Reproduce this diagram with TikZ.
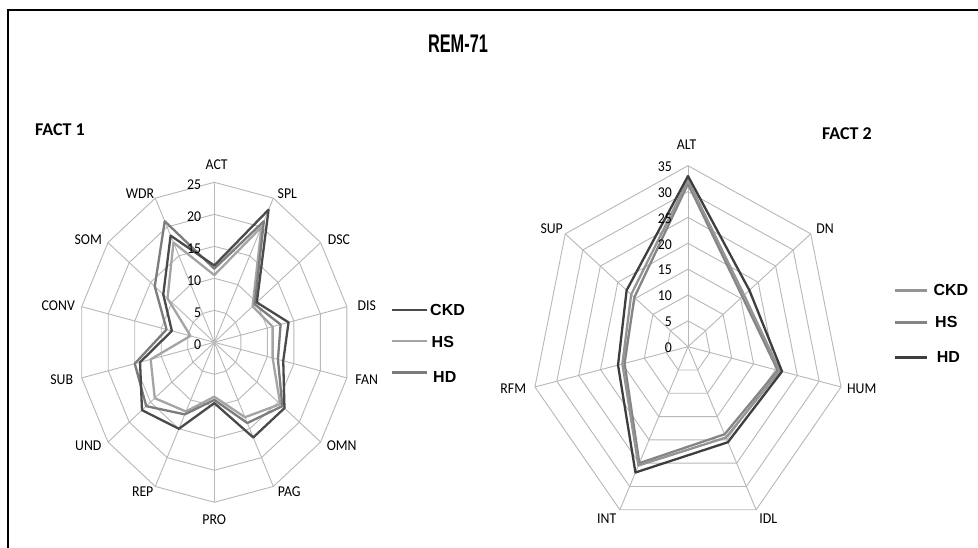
\documentclass[tikz,border=0pt]{standalone}
\usepackage{fontspec}
\setmainfont{Carlito}
\newfontfamily\legfont{Liberation Sans}
\definecolor{gridgray}{HTML}{B8B8B8}
\definecolor{lCKD}{HTML}{4A4A4A}
\definecolor{lHS}{HTML}{A4A4A4}
\definecolor{lHD}{HTML}{7C7C7C}
\definecolor{rCKD}{HTML}{949494}
\definecolor{rHS}{HTML}{858585}
\definecolor{rHD}{HTML}{3E3E3E}
\newcommand{\sqz}[1]{\scalebox{0.92}[1]{#1}}
\tikzset{
  gridline/.style={draw=gridgray, line width=0.9pt},
  serline/.style={line width=2.3pt, line join=round},
  axlab/.style={font=\fontsize{15}{15}\selectfont, inner sep=0pt},
  ticklab/.style={font=\fontsize{15}{15}\selectfont, inner sep=0pt, anchor=east},
  facttxt/.style={font=\fontsize{18}{18}\selectfont\bfseries, inner sep=0pt, anchor=west},
  legline/.style={line width=2.8pt},
  legtxt/.style={font=\legfont\fontsize{16}{16}\selectfont\bfseries, inner sep=0pt, anchor=west},
}
\begin{document}
\begin{tikzpicture}[x=1pt, y=-1pt]
\useasboundingbox (0,0) rectangle (978,548);
\clip (0,0) rectangle (978,548);
\fill[white] (0,0) rectangle (978,548);
% frame
\draw[line width=2.2pt] (7.7,600) -- (7.7,10.3) -- (1000,10.3);
% title
\node[inner sep=0pt, font=\legfont\fontsize{25.5}{25.5}\selectfont\bfseries] (title) at (458,44.2) {\scalebox{0.64}[1]{REM-71}};
\node[facttxt] (fact1) at (35,129.7) {FACT 1};
\node[facttxt] (fact2) at (822,133.5) {FACT 2};

% ---------------- left chart ----------------
\def\LCX{214.3}\def\LCY{342.3}\def\LRX{136}\def\LRY{160}
\coordinate (Lc) at (\LCX,\LCY);
\foreach \k in {5,10,15,20,25}{
  \foreach \i in {0,...,13}{
    \coordinate (L\k-\i) at ({\LCX + \LRX*\k/25*cos(90-\i*360/14)}, {\LCY - \LRY*\k/25*sin(90-\i*360/14)});
  }
  \draw[gridline] (L\k-0) \foreach \i in {1,...,13}{ -- (L\k-\i)} -- cycle;
}
\foreach \i in {0,...,13}{ \draw[gridline] (Lc) -- (L25-\i); }
% series
\foreach \v [count=\i from 0] in {10.5,20,9,11,11,15.5,13,8.5,12,14,12,4.5,11,17.3}{
  \coordinate (LB\i) at ({\LCX + \LRX*\v/25*cos(90-\i*360/14)}, {\LCY - \LRY*\v/25*sin(90-\i*360/14)});
}
\foreach \v [count=\i from 0] in {11.5,21,9.5,12.5,12,16,14,9,12.5,16,15,9,14,21}{
  \coordinate (LD\i) at ({\LCX + \LRX*\v/25*cos(90-\i*360/14)}, {\LCY - \LRY*\v/25*sin(90-\i*360/14)});
}
\foreach \v [count=\i from 0] in {12,23,10,14,13,16.5,16.5,9.5,15,17,14,8,12,18.5}{
  \coordinate (LA\i) at ({\LCX + \LRX*\v/25*cos(90-\i*360/14)}, {\LCY - \LRY*\v/25*sin(90-\i*360/14)});
}
\draw[serline, lHS] (LB0) \foreach \i in {1,...,13}{ -- (LB\i)} -- cycle;
\draw[serline, lHD] (LD0) \foreach \i in {1,...,13}{ -- (LD\i)} -- cycle;
\draw[serline, lCKD] (LA0) \foreach \i in {1,...,13}{ -- (LA\i)} -- cycle;
% ticks
\foreach \k in {0,5,10,15,20,25}{
  \node[ticklab] (Lt\k) at ({\LCX-13}, {\LCY - \LRY*\k/25 + 2}) {\sqz{\k}};
}
% axis labels
\node[axlab] (lACT) at (216.7,165) {\sqz{ACT}};
\node[axlab] (lSPL) at (287.3,193.3) {\sqz{SPL}};
\node[axlab] (lDSC) at (339,239.3) {\sqz{DSC}};
\node[axlab] (lDIS) at (366.7,306) {\sqz{DIS}};
\node[axlab] (lFAN) at (366.7,380) {\sqz{FAN}};
\node[axlab] (lOMN) at (341.7,446) {\sqz{OMN}};
\node[axlab] (lPAG) at (289.3,491.7) {\sqz{PAG}};
\node[axlab] (lPRO) at (214.3,520) {\sqz{PRO}};
\node[axlab] (lREP) at (142.7,491.7) {\sqz{REP}};
\node[axlab] (lUND) at (88.3,446) {\sqz{UND}};
\node[axlab] (lSUB) at (61.7,380) {\sqz{SUB}};
\node[axlab] (lCONV) at (58.3,306) {\sqz{CONV}};
\node[axlab] (lSOM) at (88.3,239.3) {\sqz{SOM}};
\node[axlab] (lWDR) at (140,193.3) {\sqz{WDR}};
% legend left
\coordinate (la1) at (391.7,310); \coordinate (la2) at (426.7,310);
\coordinate (lb1) at (391.7,341); \coordinate (lb2) at (426.7,341);
\coordinate (ld1) at (391.7,372.3); \coordinate (ld2) at (426.7,372.3);
\draw[legline, lCKD] (la1) -- (la2);
\draw[legline, lHS] (lb1) -- (lb2);
\draw[legline, lHD] (ld1) -- (ld2);
\node[legtxt] (lgCKD) at (430,310) {CKD};
\node[legtxt] (lgHS) at (431.5,341.5) {HS};
\node[legtxt] (lgHD) at (433,377) {HD};

% ---------------- right chart ----------------
\def\RCX{688}\def\RCY{346.7}\def\RRX{157}\def\RRY{181}
\coordinate (Rc) at (\RCX,\RCY);
\foreach \k in {5,10,15,20,25,30,35}{
  \foreach \i in {0,...,6}{
    \coordinate (R\k-\i) at ({\RCX + \RRX*\k/35*cos(90-\i*360/7)}, {\RCY - \RRY*\k/35*sin(90-\i*360/7)});
  }
  \draw[gridline] (R\k-0) \foreach \i in {1,...,6}{ -- (R\k-\i)} -- cycle;
}
\foreach \i in {0,...,6}{ \draw[gridline] (Rc) -- (R35-\i); }
\foreach \v [count=\i from 0] in {31.5,15.5,20.5,18.8,25,14.5,15.3}{
  \coordinate (RB\i) at ({\RCX + \RRX*\v/35*cos(90-\i*360/7)}, {\RCY - \RRY*\v/35*sin(90-\i*360/7)});
}
\foreach \v [count=\i from 0] in {32.2,16,21,19.5,25.5,15,16.2}{
  \coordinate (RA\i) at ({\RCX + \RRX*\v/35*cos(90-\i*360/7)}, {\RCY - \RRY*\v/35*sin(90-\i*360/7)});
}
\foreach \v [count=\i from 0] in {33,17.5,21.5,20.5,27,16,17.5}{
  \coordinate (RD\i) at ({\RCX + \RRX*\v/35*cos(90-\i*360/7)}, {\RCY - \RRY*\v/35*sin(90-\i*360/7)});
}
\draw[serline, rHS] (RB0) \foreach \i in {1,...,6}{ -- (RB\i)} -- cycle;
\draw[serline, rCKD] (RA0) \foreach \i in {1,...,6}{ -- (RA\i)} -- cycle;
\draw[serline, rHD] (RD0) \foreach \i in {1,...,6}{ -- (RD\i)} -- cycle;
\foreach \k in {0,5,10,15,20,25,30,35}{
  \node[ticklab] (Rt\k) at ({\RCX-16}, {\RCY - \RRY*\k/35 + 1}) {\sqz{\k}};
}
\node[axlab] (rALT) at (686.7,145) {\sqz{ALT}};
\node[axlab] (rDN) at (825,228.3) {\sqz{DN}};
\node[axlab] (rHUM) at (861.7,388.3) {\sqz{HUM}};
\node[axlab] (rIDL) at (768.3,518.3) {\sqz{IDL}};
\node[axlab] (rINT) at (606.7,518.3) {\sqz{INT}};
\node[axlab] (rRFM) at (513.3,388.3) {\sqz{RFM}};
\node[axlab] (rSUP) at (551.7,228.3) {\sqz{SUP}};
% legend right
\coordinate (ra1) at (895,290.7); \coordinate (ra2) at (927.3,290.7);
\coordinate (rb1) at (895,322.3); \coordinate (rb2) at (927.3,322.3);
\coordinate (rd1) at (895,357.3); \coordinate (rd2) at (927.3,357.3);
\draw[legline, rCKD] (ra1) -- (ra2);
\draw[legline, rHS] (rb1) -- (rb2);
\draw[legline, rHD] (rd1) -- (rd2);
\node[legtxt] (rgCKD) at (933.3,290) {CKD};
\node[legtxt] (rgHS) at (935,322) {HS};
\node[legtxt] (rgHD) at (936.7,357) {HD};
\end{tikzpicture}
\end{document}
